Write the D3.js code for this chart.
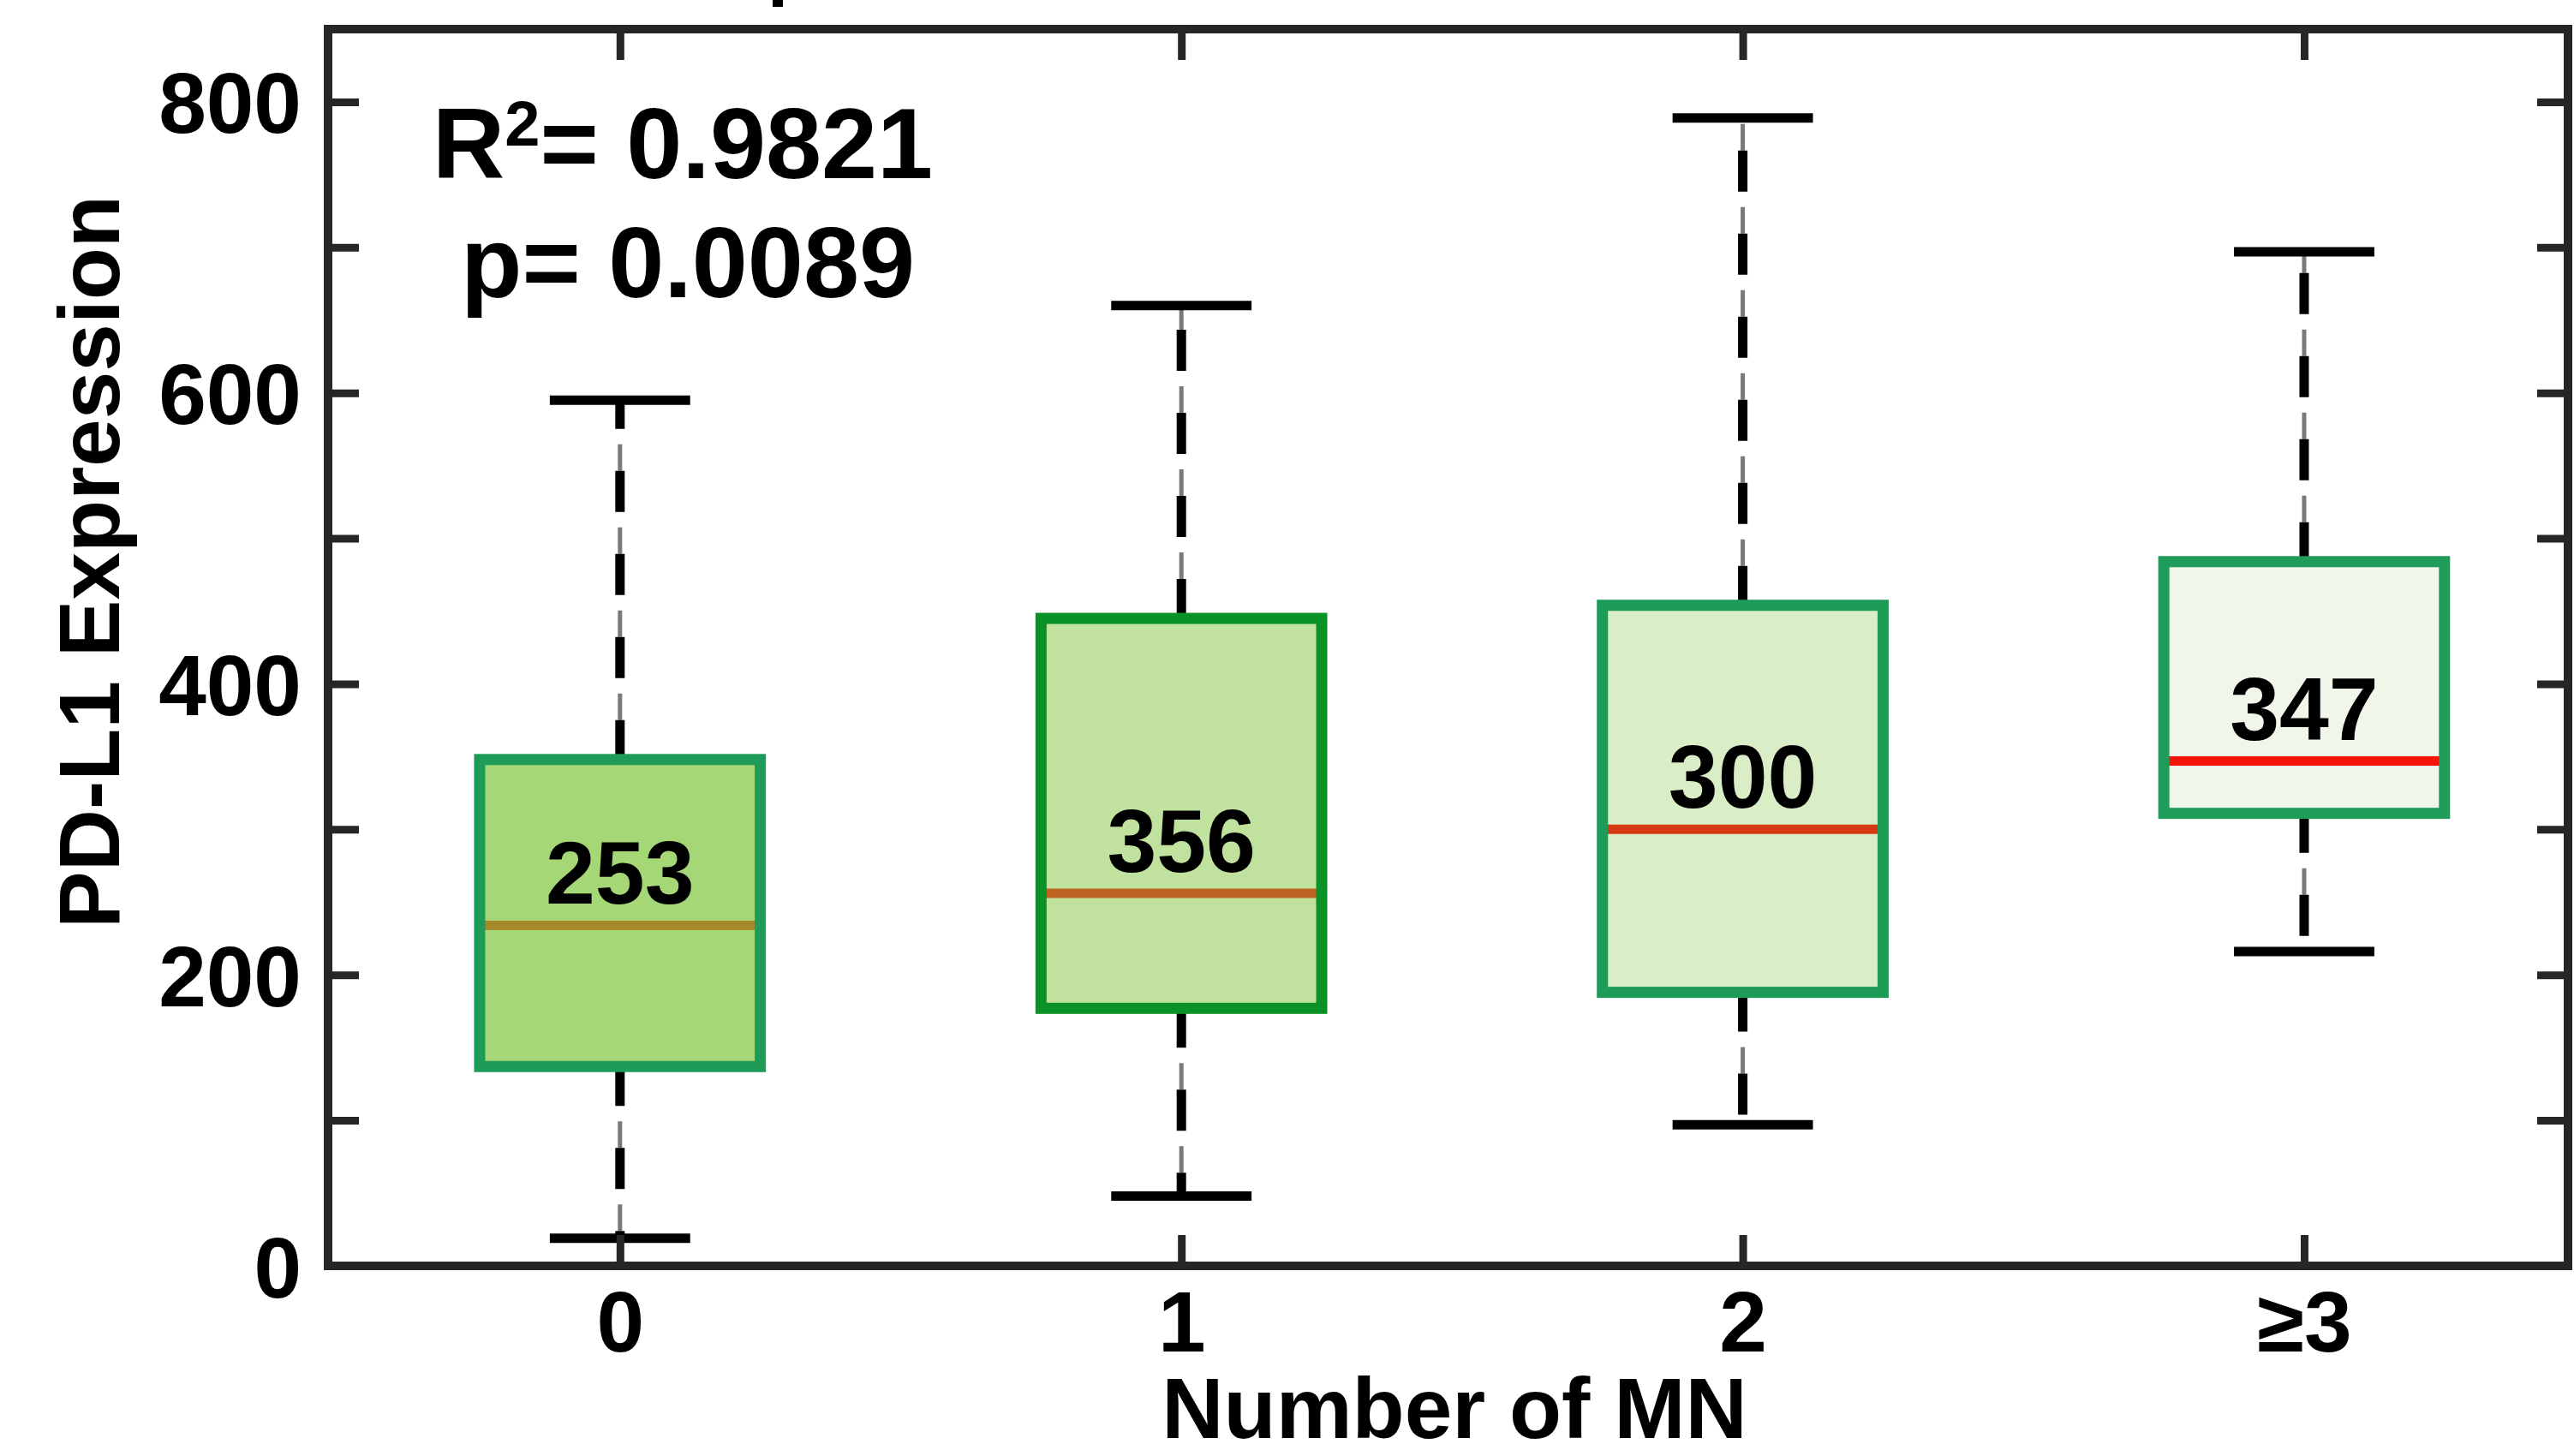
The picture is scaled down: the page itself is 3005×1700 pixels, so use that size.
<!DOCTYPE html>
<html><head><meta charset="utf-8">
<script src="https://cdn.jsdelivr.net/npm/d3@7"></script>
<style>html,body{margin:0;padding:0;background:#fff;} svg{display:block;}</style>
</head><body>
<svg id="chart" width="3005" height="1700"></svg>
<script>
// ---- data ----
const categories   = ["0", "1", "2", "≥3"];
const lowerWhisker = [19, 48, 97, 216];
const q1           = [137, 177, 188, 311];
const median       = [234, 256, 300, 347];
const q3           = [348, 445, 454, 484];
const upperWhisker = [595, 660, 789, 697];
const boxLabels    = ["253", "356", "300", "347"];
const boxFill      = ["#a5d776", "#c1e29e", "#d9edc6", "#f0f7ea"];
const boxEdge      = ["#1f9b58", "#0b9227", "#1f9b58", "#1f9b5a"];
const medianColor  = ["#a48a2a", "#bd6221", "#d63a13", "#f5140a"];
const yTickValues  = [0, 100, 200, 300, 400, 500, 600, 700, 800];
const yTickLabels  = ["0", "", "200", "", "400", "", "600", "", "800"];
const r2Value = "0.9821";
const pValue  = "0.0089";
const xTitle = "Number of MN";
const yTitle = "PD-L1 Expression";

// ---- layout ----
const W = 3005, H = 1700;
const frame = {left: 383, right: 2998, top: 34, bottom: 1478};
const xlim = [-0.52, 3.47], ylim = [0, 850];
const FONT = "'Liberation Sans', Arial, Helvetica, sans-serif";
const AX = "#262626";

const svg = d3.select("#chart");
svg.append("rect").attr("width", W).attr("height", H).attr("fill", "#fff");

const x = d3.scaleLinear().domain(xlim).range([frame.left, frame.right]);
const y = d3.scaleLinear().domain(ylim).range([frame.bottom, frame.top]);
const unit = x(1) - x(0);
const boxW = 0.5 * unit, capW = 0.25 * unit;

// clipped fragment of a title above the plot (descender only)
svg.append("rect").attr("x", 902).attr("y", 0).attr("width", 12).attr("height", 8).attr("fill", "#000");

const idx = d3.range(categories.length);

// ---- whiskers ----
const wg = svg.append("g");
idx.forEach(i => {
  const cx = x(i);
  const segs = [
    {y0: y(q3[i]), y1: y(upperWhisker[i]), grayOff: 51},
    {y0: y(q1[i]), y1: y(lowerWhisker[i]), grayOff: 33}
  ];
  segs.forEach(s => {
    wg.append("line").attr("x1", cx).attr("x2", cx).attr("y1", s.y0).attr("y2", s.y1)
      .attr("stroke", "#7a7a7a").attr("stroke-width", 5)
      .attr("stroke-dasharray", "31 66").attr("stroke-dashoffset", s.grayOff);
    wg.append("line").attr("x1", cx).attr("x2", cx).attr("y1", s.y0).attr("y2", s.y1)
      .attr("stroke", "#000").attr("stroke-width", 11)
      .attr("stroke-dasharray", "48 49").attr("stroke-dashoffset", 2);
  });
  [upperWhisker[i], lowerWhisker[i]].forEach(v => {
    wg.append("line").attr("x1", cx - capW / 2).attr("x2", cx + capW / 2)
      .attr("y1", y(v)).attr("y2", y(v))
      .attr("stroke", "#000").attr("stroke-width", 11);
  });
});

// ---- boxes ----
const bg = svg.append("g");
idx.forEach(i => {
  const cx = x(i);
  bg.append("rect").attr("x", cx - boxW / 2).attr("y", y(q3[i]))
    .attr("width", boxW).attr("height", y(q1[i]) - y(q3[i]))
    .attr("fill", boxFill[i]);
  bg.append("line").attr("x1", cx - boxW / 2).attr("x2", cx + boxW / 2)
    .attr("y1", y(median[i])).attr("y2", y(median[i]))
    .attr("stroke", medianColor[i]).attr("stroke-width", 11);
  bg.append("rect").attr("x", cx - boxW / 2).attr("y", y(q3[i]))
    .attr("width", boxW).attr("height", y(q1[i]) - y(q3[i]))
    .attr("fill", "none").attr("stroke", boxEdge[i]).attr("stroke-width", 13);
  bg.append("text").attr("x", cx).attr("y", y(median[i]) - 25)
    .attr("text-anchor", "middle").attr("font-family", FONT).attr("font-weight", "bold")
    .attr("font-size", 104).attr("fill", "#000").text(boxLabels[i]);
});

// ---- axes ----
const TL = 36;
const yAxisL = d3.axisLeft(y).tickValues(yTickValues).tickSize(-TL).tickPadding(31)
  .tickFormat((d, k) => yTickLabels[k]);
const gL = svg.append("g").attr("transform", `translate(${frame.left},0)`).call(yAxisL);
const yAxisR = d3.axisRight(y).tickValues(yTickValues).tickSize(-TL).tickFormat("");
const gR = svg.append("g").attr("transform", `translate(${frame.right},0)`).call(yAxisR);
const xAxisB = d3.axisBottom(x).tickValues(idx).tickSize(-TL).tickPadding(0)
  .tickFormat(d => categories[d]);
const gB = svg.append("g").attr("transform", `translate(0,${frame.bottom})`).call(xAxisB);
const xAxisT = d3.axisTop(x).tickValues(idx).tickSize(-TL).tickFormat("");
const gT = svg.append("g").attr("transform", `translate(0,${frame.top})`).call(xAxisT);

[gL, gR, gB, gT].forEach(g => {
  g.select(".domain").remove();
  g.selectAll(".tick line").attr("stroke", AX).attr("stroke-width", 9);
  g.selectAll("text").attr("font-family", FONT).attr("font-weight", "bold")
    .attr("font-size", 100).attr("fill", "#000");
});
gL.selectAll(".tick text").attr("dy", "0.36em");
gB.selectAll(".tick text").attr("y", 100).attr("dy", 0);

// frame
svg.append("rect").attr("x", frame.left).attr("y", frame.top)
  .attr("width", frame.right - frame.left).attr("height", frame.bottom - frame.top)
  .attr("fill", "none").attr("stroke", AX).attr("stroke-width", 10);

// ---- titles ----
svg.append("text").attr("x", 1698).attr("y", 1679).attr("text-anchor", "middle")
  .attr("font-family", FONT).attr("font-weight", "bold").attr("font-size", 100)
  .attr("fill", "#000").text(xTitle);
svg.append("text").attr("transform", "translate(139,656) rotate(-90)").attr("text-anchor", "middle")
  .attr("font-family", FONT).attr("font-weight", "bold").attr("font-size", 100)
  .attr("fill", "#000").text(yTitle);

// ---- stats ----
const t1 = svg.append("text").attr("x", 797).attr("y", 208).attr("text-anchor", "middle")
  .attr("font-family", FONT).attr("font-weight", "bold").attr("font-size", 117).attr("fill", "#000");
t1.append("tspan").text("R");
t1.append("tspan").attr("font-size", 74).attr("dy", -38).text("2");
t1.append("tspan").attr("dy", 38).text("= " + r2Value);
svg.append("text").attr("x", 803).attr("y", 347).attr("text-anchor", "middle")
  .attr("font-family", FONT).attr("font-weight", "bold").attr("font-size", 117)
  .attr("fill", "#000").text("p= " + pValue);
</script>
</body></html>
